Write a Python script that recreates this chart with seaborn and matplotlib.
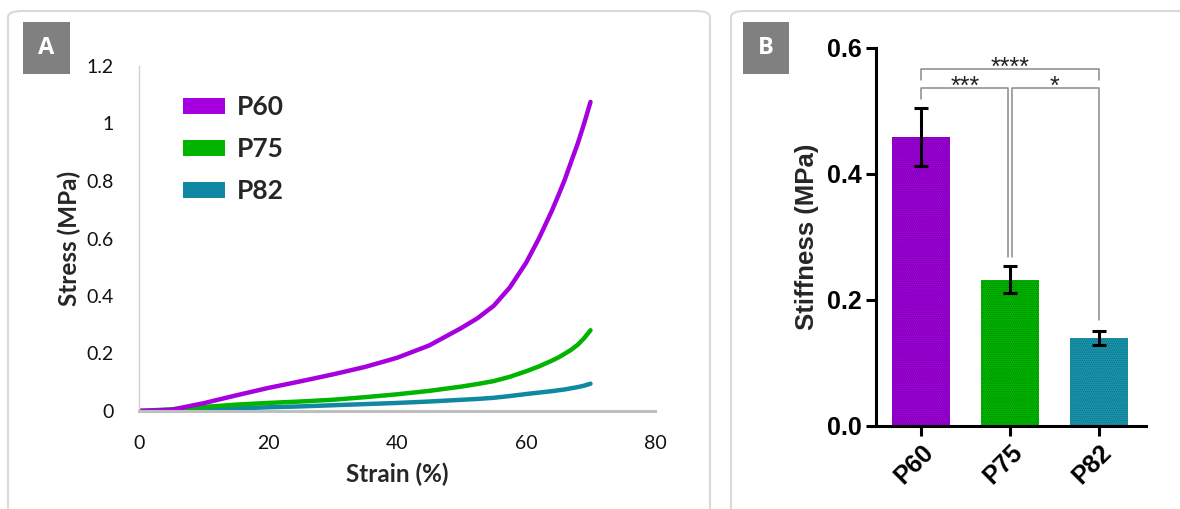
import numpy as np
import pandas as pd
import matplotlib
matplotlib.use("Agg")
import matplotlib.pyplot as plt
from matplotlib.patches import Patch, FancyBboxPatch
import matplotlib.colors as mcolors
import seaborn as sns

# ---------------- data ----------------
strain = [0, 5, 10, 15, 20, 25, 30, 35, 40, 45, 50, 52.5, 55, 57.5, 60, 62, 64, 65, 66, 67, 68, 69, 70]
stress_p60 = [0, 0.004, 0.027, 0.054, 0.08, 0.103, 0.127, 0.153, 0.185, 0.228, 0.289, 0.323, 0.366,
              0.43, 0.515, 0.60, 0.696, 0.749, 0.804, 0.867, 0.929, 0.999, 1.075]
stress_p75 = [0, 0.006, 0.014, 0.022, 0.028, 0.033, 0.039, 0.048, 0.058, 0.07, 0.085, 0.094, 0.104,
              0.119, 0.138, 0.155, 0.175, 0.186, 0.199, 0.213, 0.23, 0.253, 0.281]
stress_p82 = [0, 0.002, 0.005, 0.009, 0.013, 0.016, 0.02, 0.024, 0.028, 0.033, 0.039, 0.042, 0.046,
              0.052, 0.059, 0.064, 0.069, 0.072, 0.075, 0.079, 0.083, 0.088, 0.095]

groups = ["P60", "P75", "P82"]
stiffness_mean = [0.459, 0.232, 0.139]
stiffness_err = [0.046, 0.021, 0.011]

line_colors = ["#A600E0", "#00B400", "#1088A2"]
bar_colors = ["#9A00D6", "#00B400", "#1894AC"]

x_ticks_a = [0, 20, 40, 60, 80]
y_ticks_a = [0, 0.2, 0.4, 0.6, 0.8, 1.0, 1.2]
y_ticklabels_a = ["0", "0.2", "0.4", "0.6", "0.8", "1", "1.2"]
y_ticks_b = [0.0, 0.2, 0.4, 0.6]

# significance: (left group idx, right group idx, label)
sig_pairs = [(0, 2, "****"), (0, 1, "***"), (1, 2, "*")]

# ---------------- figure ----------------
sns.set_theme(style="white")
plt.rcParams["font.family"] = ["Lato", "DejaVu Sans"]

W, H = 1180, 509
fig = plt.figure(figsize=(W / 100, H / 100), dpi=100)

def fx(px):
    return px / W

def fy(py):
    return 1 - py / H

# panel borders
for (x0, x1) in [(8, 710), (731, 1200)]:
    fig.patches.append(FancyBboxPatch((fx(x0), fy(540)), fx(x1 - x0), (540 - 11) / H,
                                      boxstyle="round,pad=0,rounding_size=0.012",
                                      transform=fig.transFigure, facecolor="none",
                                      edgecolor="#DADADA", linewidth=1.5, zorder=0))

# panel letters
for (x0, x1, letter) in [(23, 70, "A"), (743, 789, "B")]:
    fig.patches.append(plt.Rectangle((fx(x0), fy(74)), fx(x1 - x0), (74 - 22) / H,
                                     transform=fig.transFigure, facecolor="#808080",
                                     edgecolor="none", zorder=1))
    fig.text(fx((x0 + x1) / 2), fy(48), letter, color="white", fontsize=17,
             fontweight="bold", ha="center", va="center",
             family=["Open Sans", "DejaVu Sans"])

# ---------------- panel A ----------------
axA = fig.add_axes([fx(139), fy(411), fx(655 - 139), (411 - 66) / H])
axA.set_zorder(3)
axA.patch.set_alpha(0)
df = pd.DataFrame({
    "Strain": strain * 3,
    "Stress": stress_p60 + stress_p75 + stress_p82,
    "Sample": ["P60"] * len(strain) + ["P75"] * len(strain) + ["P82"] * len(strain),
})
for name, col in zip(groups[::-1], line_colors[::-1]):
    sub = df[df["Sample"] == name]
    sns.lineplot(data=sub, x="Strain", y="Stress", color=col, linewidth=3.2,
                 ax=axA, legend=False, solid_capstyle="round", solid_joinstyle="round")

axA.set_xlim(0, 80)
axA.set_ylim(0, 1.2)
axA.set_xticks(x_ticks_a)
axA.set_yticks(y_ticks_a)
axA.set_yticklabels(y_ticklabels_a)
axA.tick_params(axis="both", length=0, labelsize=14, colors="#111111")
axA.tick_params(axis="x", pad=17)
axA.tick_params(axis="y", pad=18)
for s in ["top", "right"]:
    axA.spines[s].set_visible(False)
axA.spines["bottom"].set_color("#BFBFBF")
axA.spines["bottom"].set_linewidth(2.2)
axA.spines["left"].set_color("#D0D0D0")
axA.spines["left"].set_linewidth(1.0)
axA.set_xlabel("Strain (%)", fontsize=17.5, fontweight="bold", labelpad=8)
axA.set_ylabel("Stress (MPa)", fontsize=17.5, fontweight="bold", labelpad=4)

handles = [Patch(facecolor=c, edgecolor="none", label=g) for g, c in zip(groups, line_colors)]
leg = axA.legend(handles=handles, loc="upper left", bbox_to_anchor=(0.085, 0.915),
                 frameon=False, handlelength=1.6, handleheight=0.55,
                 labelspacing=0.68, handletextpad=0.45, borderpad=0, borderaxespad=0,
                 prop={"weight": "bold", "size": 19})

# ---------------- panel B ----------------
axB = fig.add_axes([fx(876), fy(425.7), fx(1146 - 876), (425.7 - 47.7) / H])
axB.set_zorder(3)
axB.patch.set_alpha(0)
plt.rcParams["hatch.linewidth"] = 0.5
sns.barplot(x=groups, y=stiffness_mean, hue=groups, palette=bar_colors, legend=False,
            width=0.65, ax=axB, saturation=1, errorbar=None)
for p, c in zip(axB.patches, bar_colors):
    dark = tuple(v * 0.72 for v in mcolors.to_rgb(c))
    p.set_hatch("........")
    p.set_edgecolor(dark)
    p.set_linewidth(0)
    p.set_zorder(1)
axB.errorbar(range(len(groups)), stiffness_mean, yerr=stiffness_err, fmt="none",
             ecolor="black", elinewidth=2.2, capsize=5, capthick=2.2, zorder=3)

axB.set_xlim(-0.506, 2.53)
axB.set_ylim(0, 0.6)
axB.set_yticks(y_ticks_b)
axB.set_yticklabels([f"{v:.1f}" for v in y_ticks_b])
for s in ["top", "right"]:
    axB.spines[s].set_visible(False)
for s in ["left", "bottom"]:
    axB.spines[s].set_color("black")
    axB.spines[s].set_linewidth(2.2)
axB.tick_params(axis="both", direction="out", length=7, width=2.2, color="black",
                left=True, bottom=True, labelsize=18, labelcolor="black")
axB.tick_params(axis="y", pad=3)
for lab in axB.get_yticklabels() + axB.get_xticklabels():
    lab.set_fontweight("bold")
    lab.set_family(["Liberation Sans", "DejaVu Sans"])
plt.setp(axB.get_xticklabels(), rotation=45, ha="right", rotation_mode="anchor")
axB.set_ylabel("Stiffness (MPa)", fontsize=18.5, fontweight="bold",
               family=["Liberation Sans", "DejaVu Sans"], labelpad=6)
axB.set_xlabel("")

# significance brackets
gc = "#8A8A8A"
top_y = 0.566
mid_y = 0.536
off = 0.025
axB.plot([0, 0, 2, 2], [0.549, top_y, top_y, 0.549], color=gc, lw=1.1, clip_on=False)
axB.plot([0, 0, 1 - off, 1 - off], [0.518, mid_y, mid_y, 0.267], color=gc, lw=1.1, clip_on=False)
axB.plot([1 + off, 1 + off, 2, 2], [0.267, mid_y, mid_y, 0.168], color=gc, lw=1.1, clip_on=False)
for (i, j, lab), yy in zip(sig_pairs, [top_y, mid_y, mid_y]):
    axB.text((i + j) / 2, yy - 0.009, lab, ha="center", va="baseline", fontsize=18,
             color="#222222", family=["Liberation Sans", "DejaVu Sans"])

fig.savefig("out.png", dpi=100)
